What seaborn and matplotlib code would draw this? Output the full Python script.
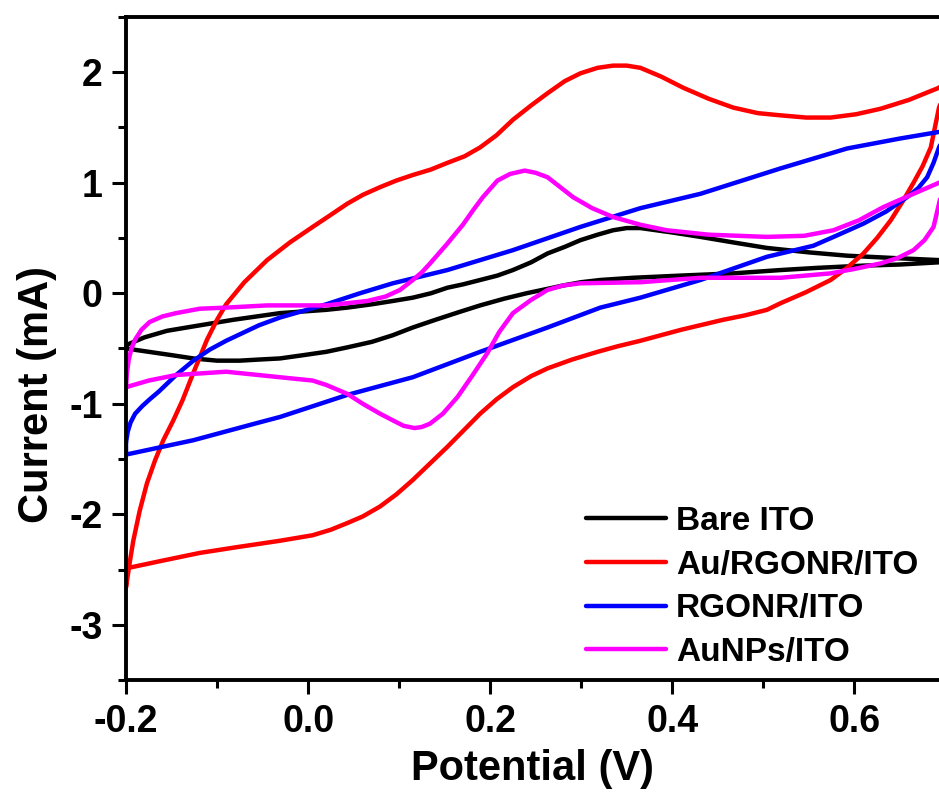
import numpy as np
import pandas as pd
import matplotlib
matplotlib.use("Agg")
import matplotlib.pyplot as plt
from matplotlib.ticker import MultipleLocator
import seaborn as sns

### CV data (potential in V, current in mA)
### each loop: forward scan (-0.2 -> 0.7) then reverse scan (0.7 -> -0.2)
bare_v = [-0.200, -0.180, -0.155, -0.126, -0.082, -0.031, 0.020, 0.043, 0.070, 0.093, 0.115, 0.135,
          0.153, 0.170, 0.189, 0.208, 0.225, 0.245, 0.263, 0.282, 0.299, 0.318, 0.335, 0.350,
          0.365, 0.400, 0.431, 0.467, 0.504, 0.550, 0.592, 0.640, 0.693, 0.705,
          0.693, 0.650, 0.610, 0.560, 0.519, 0.467, 0.410, 0.357, 0.321, 0.300, 0.280, 0.263,
          0.240, 0.215, 0.189, 0.166, 0.140, 0.115, 0.093, 0.070, 0.043, 0.020, -0.005, -0.031,
          -0.054, -0.075, -0.100, -0.126, -0.150, -0.175, -0.200]
bare_i = [-0.47, -0.40, -0.34, -0.30, -0.24, -0.18, -0.15, -0.13, -0.10, -0.07, -0.04, 0.00,
          0.05, 0.08, 0.12, 0.16, 0.21, 0.28, 0.36, 0.42, 0.48, 0.53, 0.57, 0.59,
          0.59, 0.55, 0.51, 0.46, 0.41, 0.37, 0.34, 0.32, 0.30, 0.29,
          0.28, 0.26, 0.25, 0.23, 0.21, 0.18, 0.16, 0.14, 0.12, 0.10, 0.07, 0.04,
          0.00, -0.05, -0.11, -0.17, -0.24, -0.31, -0.38, -0.44, -0.49, -0.53, -0.56, -0.59,
          -0.60, -0.61, -0.61, -0.59, -0.56, -0.53, -0.50]

au_rgonr_v = [-0.200, -0.196, -0.192, -0.185, -0.177, -0.168, -0.159, -0.148, -0.138, -0.126, -0.111,
              -0.100, -0.090, -0.070, -0.045, -0.020, 0.005, 0.025, 0.043, 0.060, 0.079, 0.097,
              0.115, 0.135, 0.153, 0.172, 0.189, 0.207, 0.225, 0.245, 0.263, 0.282, 0.299, 0.318,
              0.335, 0.350, 0.365, 0.388, 0.412, 0.440, 0.467, 0.494, 0.519, 0.547, 0.574, 0.602,
              0.629, 0.660, 0.693, 0.705,
              0.693, 0.684, 0.675, 0.665, 0.653, 0.640, 0.625, 0.610, 0.592, 0.574, 0.547, 0.519,
              0.504, 0.480, 0.456, 0.410, 0.365, 0.340, 0.318, 0.290, 0.263, 0.245, 0.225, 0.207,
              0.189, 0.171, 0.153, 0.134, 0.115, 0.097, 0.079, 0.060, 0.043, 0.025, 0.005, -0.031,
              -0.080, -0.119, -0.160, -0.200, -0.200]
au_rgonr_i = [-2.66, -2.44, -2.24, -1.97, -1.72, -1.51, -1.33, -1.15, -0.97, -0.72, -0.42,
              -0.24, -0.10, 0.10, 0.30, 0.46, 0.60, 0.71, 0.81, 0.89, 0.96, 1.02,
              1.07, 1.12, 1.18, 1.24, 1.32, 1.43, 1.57, 1.70, 1.81, 1.92, 1.99, 2.04,
              2.06, 2.06, 2.04, 1.96, 1.86, 1.76, 1.68, 1.63, 1.61, 1.59, 1.59, 1.62,
              1.67, 1.75, 1.86, 1.95,
              1.68, 1.32, 1.15, 1.00, 0.83, 0.66, 0.50, 0.36, 0.23, 0.12, 0.01, -0.09,
              -0.15, -0.20, -0.24, -0.33, -0.43, -0.48, -0.53, -0.60, -0.68, -0.75, -0.85, -0.96,
              -1.09, -1.24, -1.39, -1.54, -1.69, -1.82, -1.93, -2.02, -2.08, -2.14, -2.19, -2.24,
              -2.30, -2.35, -2.42, -2.49, -2.66]

rgonr_v = [-0.200, -0.198, -0.195, -0.190, -0.182, -0.174, -0.164, -0.145, -0.126, -0.108, -0.090,
           -0.054, -0.031, 0.020, 0.057, 0.093, 0.153, 0.225, 0.299, 0.365, 0.431, 0.519, 0.592,
           0.650, 0.693, 0.702,
           0.693, 0.687, 0.680, 0.670, 0.658, 0.635, 0.610, 0.580, 0.555, 0.504, 0.431, 0.365,
           0.321, 0.263, 0.189, 0.115, 0.043, -0.031, -0.054, -0.126, -0.200, -0.200]
rgonr_i = [-1.35, -1.25, -1.17, -1.09, -1.02, -0.96, -0.89, -0.74, -0.61, -0.51, -0.43,
           -0.29, -0.22, -0.10, 0.00, 0.09, 0.21, 0.39, 0.60, 0.77, 0.90, 1.13, 1.31,
           1.40, 1.46, 1.48,
           1.32, 1.18, 1.05, 0.95, 0.87, 0.74, 0.63, 0.52, 0.43, 0.33, 0.12, -0.04,
           -0.13, -0.31, -0.53, -0.76, -0.92, -1.12, -1.17, -1.33, -1.46, -1.35]

aunps_v = [-0.200, -0.199, -0.197, -0.194, -0.190, -0.183, -0.174, -0.160, -0.145, -0.119, -0.090,
           -0.045, 0.020, 0.043, 0.065, 0.085, 0.101, 0.115, 0.125, 0.134, 0.152, 0.170, 0.182,
           0.192, 0.208, 0.222, 0.238, 0.250, 0.263, 0.277, 0.291, 0.312, 0.335, 0.365,
           0.394, 0.440, 0.504, 0.545, 0.577, 0.605, 0.632, 0.665, 0.693, 0.705,
           0.696, 0.693, 0.687, 0.677, 0.665, 0.648, 0.629, 0.600, 0.574, 0.519, 0.431, 0.365,
           0.299, 0.280, 0.263, 0.245, 0.225, 0.210, 0.197, 0.180, 0.164, 0.148, 0.134, 0.125,
           0.117, 0.105, 0.093, 0.079, 0.060, 0.043, 0.020, 0.005, -0.031, -0.090, -0.145,
           -0.175, -0.200]
aunps_i = [-0.86, -0.72, -0.60, -0.50, -0.42, -0.33, -0.26, -0.21, -0.18, -0.14, -0.13,
           -0.11, -0.11, -0.09, -0.07, -0.03, 0.03, 0.12, 0.19, 0.27, 0.44, 0.62, 0.76,
           0.87, 1.02, 1.08, 1.11, 1.09, 1.05, 0.96, 0.87, 0.77, 0.69, 0.62,
           0.57, 0.53, 0.51, 0.52, 0.57, 0.66, 0.78, 0.90, 1.00, 1.04,
           0.92, 0.81, 0.60, 0.48, 0.39, 0.32, 0.27, 0.22, 0.18, 0.14, 0.14, 0.10,
           0.09, 0.07, 0.03, -0.06, -0.18, -0.35, -0.54, -0.75, -0.94, -1.09, -1.18, -1.21,
           -1.22, -1.20, -1.15, -1.09, -1.00, -0.91, -0.83, -0.79, -0.76, -0.71, -0.74,
           -0.79, -0.85]

labels = ["Bare ITO", "Au/RGONR/ITO", "RGONR/ITO", "AuNPs/ITO"]
colors = ["#000000", "#ff0000", "#0000ff", "#ff00ff"]

frames = []
for lab, v, i in zip(labels, [bare_v, au_rgonr_v, rgonr_v, aunps_v],
                     [bare_i, au_rgonr_i, rgonr_i, aunps_i]):
    frames.append(pd.DataFrame({"Potential": v, "Current": i, "Electrode": lab}))
df = pd.concat(frames, ignore_index=True)

### Plot
sns.set_style("ticks", {"axes.edgecolor": "black", "text.color": "black",
                        "axes.labelcolor": "black", "xtick.color": "black",
                        "ytick.color": "black"})
plt.rcParams["font.family"] = ["Liberation Sans", "DejaVu Sans"]
plt.rcParams["font.weight"] = "bold"
plt.rcParams["axes.labelweight"] = "bold"

fs_tick = 27
fs_lab = 30
fs_leg = 24

fig = plt.figure(figsize=(9.39, 7.94), dpi=100)
ax = fig.add_axes([126 / 939, 1 - 680 / 794, 1 - 126 / 939, (680 - 17) / 794])
sns.lineplot(data=df, x="Potential", y="Current", hue="Electrode", hue_order=labels,
             palette=dict(zip(labels, colors)), sort=False, estimator=None,
             linewidth=3.2, ax=ax)
for ln in ax.get_lines():
    ln.set_solid_joinstyle("round")
    ln.set_solid_capstyle("round")

ax.set_xlim(-0.2, 0.693)
ax.set_ylim(-3.5, 2.5)
ax.xaxis.set_minor_locator(MultipleLocator(0.1))
ax.yaxis.set_minor_locator(MultipleLocator(0.5))
ax.set_xticks([-0.2, 0.0, 0.2, 0.4, 0.6])
ax.set_xticklabels(["-0.2", "0.0", "0.2", "0.4", "0.6"])
ax.set_yticks([-3, -2, -1, 0, 1, 2])
ax.set_yticklabels(["-3", "-2", "-1", "0", "1", "2"])
ax.tick_params(which="major", direction="out", length=10, width=2.2, labelsize=fs_tick, pad=7)
ax.tick_params(which="minor", direction="out", length=6, width=2.2)
for lbl in ax.get_xticklabels() + ax.get_yticklabels():
    lbl.set_fontweight("bold")

for s in ["left", "bottom", "top"]:
    ax.spines[s].set_linewidth(2.8)
ax.spines["right"].set_visible(False)

ax.set_xlabel("Potential (V)", fontsize=fs_lab, fontweight="bold", labelpad=7)
ax.set_ylabel("Current (mA)", fontsize=fs_lab, fontweight="bold")
ax.yaxis.set_label_coords(-0.085, 0.43)

handles, labs = ax.get_legend_handles_labels()
leg = ax.legend(handles, labs, loc="upper left", bbox_to_anchor=(586 / 939, 1 - 506 / 794),
                bbox_transform=fig.transFigure, frameon=False, fontsize=fs_leg,
                handlelength=2.4, handletextpad=0.3, labelspacing=0.38, borderpad=0,
                borderaxespad=0)
for t in leg.get_texts():
    t.set_fontweight("bold")
for h in leg.get_lines():
    h.set_linewidth(3.2)

plt.savefig("out.png", dpi=100)
